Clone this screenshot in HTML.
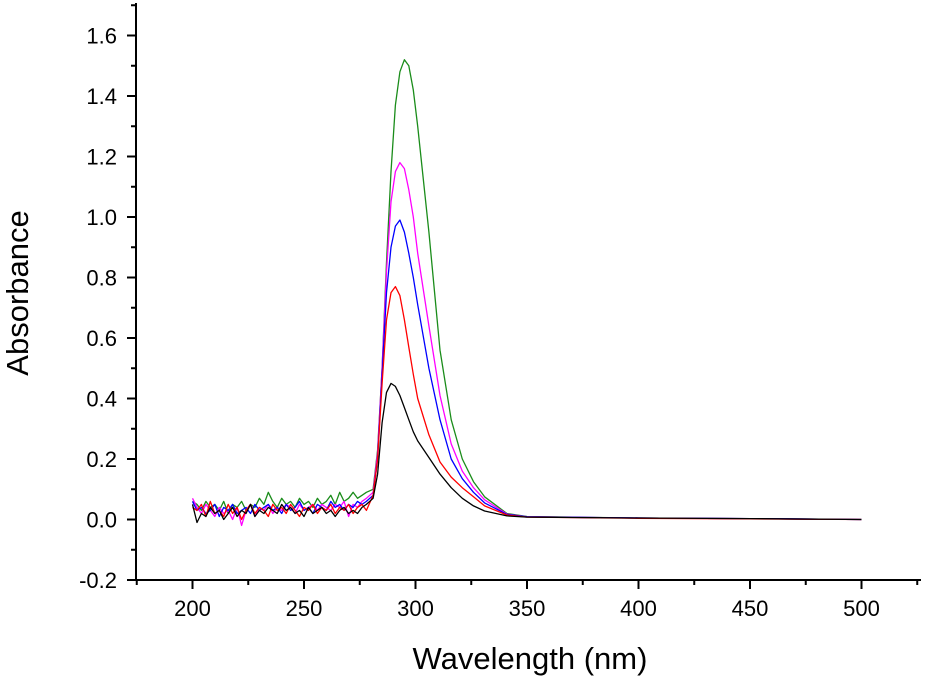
<!DOCTYPE html>
<html><head><meta charset="utf-8"><style>
body{margin:0;background:#fff}
svg{display:block;font-family:"Liberation Sans",Arial,sans-serif}
</style></head><body>
<svg id="chart" width="925" height="680">
<g id="axes"></g>
<g id="series"></g>
<text x="530" y="669" text-anchor="middle" font-size="31">Wavelength (nm)</text>
<text transform="translate(28,293) rotate(-90)" text-anchor="middle" font-size="31">Absorbance</text>
</svg>
<script>
const xTicks=[200,250,300,350,400,450,500];
const yTicks=[-0.2,0,0.2,0.4,0.6,0.8,1.0,1.2,1.4,1.6];
const noiseWl=[200,202,204,206,208,210,212,214,216,218,220,222,224,226,228,230,232,234,236,238,240,242,244,246,248,250,252,254,256,258,260,262,264,266,268,270,272,274,276,278];
const peakWl=[281,283,285,287,289,291,293,295,297,299,301,306,311,316,321,326,331,341,350,400,450,500];
const blackNoise=[0.05,-0.01,0.02,0.01,0.04,0.02,0.03,0.00,0.02,0.04,0.01,0.03,0.02,0.05,0.01,0.03,0.02,0.04,0.03,0.02,0.05,0.03,0.04,0.02,0.03,0.01,0.04,0.02,0.03,0.04,0.02,0.03,0.01,0.03,0.04,0.02,0.03,0.02,0.04,0.05];
const blackPeak=[0.07,0.15,0.32,0.42,0.45,0.44,0.41,0.37,0.33,0.29,0.26,0.205,0.15,0.105,0.07,0.045,0.028,0.012,0.008,0.005,0.003,0.0];
const redNoise=[0.04,0.03,0.05,0.01,0.06,0.02,0.03,0.01,0.05,0.02,0.04,0.00,0.03,0.05,0.02,0.04,0.03,0.01,0.05,0.03,0.04,0.02,0.05,0.03,0.01,0.04,0.03,0.05,0.02,0.04,0.03,0.05,0.02,0.04,0.03,0.05,0.02,0.04,0.05,0.03];
const redPeak=[0.08,0.2,0.45,0.66,0.75,0.77,0.74,0.66,0.57,0.48,0.40,0.28,0.19,0.14,0.105,0.075,0.045,0.015,0.008,0.004,0.002,0.0];
const blueNoise=[0.06,0.03,0.04,0.02,0.03,0.05,0.01,0.04,0.03,0.05,0.02,0.03,0.04,0.02,0.05,0.03,0.04,0.05,0.03,0.04,0.02,0.05,0.03,0.04,0.06,0.03,0.04,0.02,0.05,0.04,0.03,0.06,0.04,0.05,0.03,0.05,0.04,0.06,0.05,0.06];
const bluePeak=[0.08,0.2,0.48,0.75,0.90,0.97,0.99,0.95,0.88,0.80,0.71,0.50,0.33,0.20,0.135,0.09,0.055,0.017,0.009,0.005,0.003,0.0];
const magentaNoise=[0.07,0.04,0.02,0.05,0.03,0.01,0.04,0.02,0.03,0.00,0.04,-0.02,0.03,0.05,0.01,0.04,0.03,0.05,0.02,0.04,0.03,0.05,0.04,0.02,0.05,0.03,0.04,0.05,0.03,0.05,0.04,0.03,0.05,0.04,0.06,0.01,0.05,0.04,0.06,0.07];
const magentaPeak=[0.09,0.22,0.5,0.82,1.05,1.15,1.18,1.16,1.09,1.00,0.88,0.64,0.41,0.25,0.16,0.105,0.065,0.018,0.009,0.005,0.003,0.0];
const greenNoise=[0.06,0.05,0.03,0.06,0.04,0.05,0.03,0.06,0.02,0.05,0.04,0.06,0.03,0.05,0.04,0.07,0.05,0.09,0.06,0.04,0.07,0.05,0.06,0.04,0.07,0.05,0.06,0.04,0.07,0.05,0.06,0.08,0.05,0.09,0.06,0.07,0.09,0.07,0.08,0.09];
const greenPeak=[0.1,0.23,0.5,0.85,1.15,1.37,1.48,1.52,1.50,1.42,1.30,0.95,0.56,0.33,0.20,0.125,0.075,0.02,0.01,0.005,0.003,0.0];
const NS="http://www.w3.org/2000/svg";
function xs(v){return 192.5+(v-200)*2.23;}
function ys(v){return 519.5-v*302.5;}
const axes=document.getElementById('axes');
function mk(tag,attrs,parent){const e=document.createElementNS(NS,tag);for(const k in attrs)e.setAttribute(k,attrs[k]);parent.appendChild(e);return e;}
let l=mk('line',{x1:136,y1:3,x2:136,y2:581,stroke:'#000','stroke-width':2},axes);


l=mk('line',{x1:135,y1:580,x2:921,y2:580,stroke:'#000','stroke-width':2},axes);


yTicks.forEach(v=>{const y=ys(v);
 mk('line',{x1:127,y1:y,x2:136,y2:y,stroke:'#000','stroke-width':2},axes);
 mk('line',{x1:131,y1:ys(v+0.1),x2:136,y2:ys(v+0.1),stroke:'#000','stroke-width':2},axes);
 const t=mk('text',{x:117,y:y+8,'text-anchor':'end','font-size':22},axes);t.textContent=v.toFixed(1);
 
 
});
xTicks.forEach(v=>{const x=xs(v);
 mk('line',{x1:x,y1:580,x2:x,y2:589,stroke:'#000','stroke-width':2},axes);
 mk('line',{x1:xs(v-25),y1:580,x2:xs(v-25),y2:585,stroke:'#000','stroke-width':2},axes);
 const t=mk('text',{x:x,y:616,'text-anchor':'middle','font-size':22},axes);t.textContent=v;
 
 
});
mk('line',{x1:xs(525),y1:580,x2:xs(525),y2:585,stroke:'#000','stroke-width':2},axes);
const sg=document.getElementById('series');
const series=[['green',greenNoise,greenPeak,'#1a8c1a'],['magenta',magentaNoise,magentaPeak,'#ff00ff'],['blue',blueNoise,bluePeak,'#0000ff'],['red',redNoise,redPeak,'#ff0000'],['black',blackNoise,blackPeak,'#000']];
series.forEach(s=>{
 const pts=[];noiseWl.forEach((w,i)=>pts.push(xs(w).toFixed(1)+','+ys(s[1][i]).toFixed(1)));
 peakWl.forEach((w,i)=>pts.push(xs(w).toFixed(1)+','+ys(s[2][i]).toFixed(1)));
 const p=mk('polyline',{points:pts.join(' '),fill:'none',stroke:s[3],'stroke-width':1.3,'stroke-linejoin':'round'},sg);
 
 
});
</script>
</body></html>
